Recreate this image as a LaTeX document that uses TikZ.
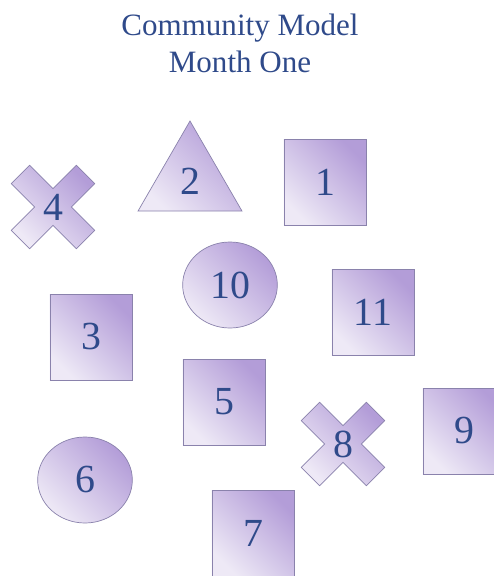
\documentclass[tikz,border=0pt]{standalone}
\usepackage{fontspec}
\setmainfont{Liberation Serif}
\usetikzlibrary{shapes.geometric}
\definecolor{ink}{HTML}{2F4A8A}
\definecolor{lavdark}{HTML}{B39DD8}
\definecolor{lavlight}{HTML}{EEE9F6}
\definecolor{edge}{HTML}{8A82AC}

\begin{document}
\begin{tikzpicture}[x=0.03cm, y=0.03cm,
  shapefill/.style={draw=edge, line width=0.6pt, top color=lavdark, bottom color=lavlight, shading angle=-45},
  sq/.style={shapefill, rectangle, minimum width=2.46cm, minimum height=2.58cm, inner sep=0pt},
  oval/.style={shapefill, ellipse, minimum width=2.84cm, minimum height=2.58cm, inner sep=0pt},
  tri/.style={shapefill, regular polygon, regular polygon sides=3, minimum size=3.6cm, inner sep=0pt},
  num/.style={text=ink, font=\fontsize{34}{34}\selectfont},
]
\clip (0,0) rectangle (494,-576);
\useasboundingbox (0,0) rectangle (494,-576);

% title
\node[text=ink, align=center, font=\fontsize{26.5}{31.5}\selectfont] (title) at (240,-43) {Community Model\\Month One};

% squares
\node[sq, num] (s1) at (325,-182) {1};
\node[sq, num] (s11) at (373,-312) {11};
\node[sq, num] (s3) at (91,-337) {3};
\node[sq, num] (s5) at (224,-402) {5};
\node[sq, num] (s9) at (464,-431) {9};
\node[sq, num] (s7) at (253,-533) {7};

% ovals and triangle
\node[oval, num] (o10) at (230,-285) {10};
\node[oval, num] (o6) at (85,-480) {6};
\node[tri, num] (t2) at (190,-181) {2};

% crosses
\foreach \n/\x/\y in {4/53/-207, 8/343/-444} {
  \begin{scope}[shift={(\x,\y)}, rotate=45]
    \draw[shapefill] (-46,-13) -- (-13,-13) -- (-13,-46) -- (13,-46) -- (13,-13) -- (46,-13)
      -- (46,13) -- (13,13) -- (13,46) -- (-13,46) -- (-13,13) -- (-46,13) -- cycle;
  \end{scope}
  \node[num] (x\n) at (\x,\y) {\n};
}
\end{tikzpicture}
\end{document}
